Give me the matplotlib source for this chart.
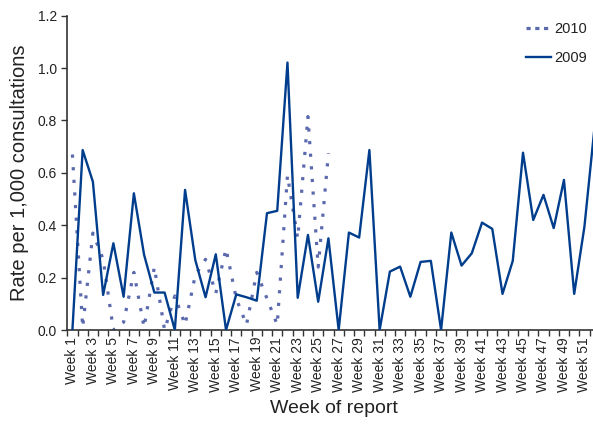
import numpy as np
import matplotlib
matplotlib.use("Agg")
import matplotlib.pyplot as plt

plt.rcParams['font.family'] = ['Liberation Sans', 'DejaVu Sans']
plt.rcParams['lines.scale_dashes'] = False

# weekly rates per 1,000 consultations
weeks = np.arange(1, 53)
rate_2009 = [0.0, 0.687, 0.566, 0.134, 0.331, 0.127, 0.522, 0.287, 0.143, 0.143,
             0.0, 0.535, 0.267, 0.125, 0.289, 0.0, 0.136, 0.125, 0.112, 0.446,
             0.455, 1.021, 0.123, 0.363, 0.108, 0.350, 0.0, 0.372, 0.353, 0.687,
             0.0, 0.223, 0.242, 0.127, 0.260, 0.264, 0.0, 0.372, 0.246, 0.293,
             0.410, 0.386, 0.138, 0.264, 0.677, 0.420, 0.516, 0.389, 0.573, 0.138,
             0.395, 0.78]
rate_2010 = [0.67, 0.01, 0.37, 0.27, 0.0, 0.03, 0.22, 0.01, 0.24, 0.0,
             0.13, 0.02, 0.21, 0.27, 0.14, 0.31, 0.12, 0.02, 0.22, 0.12,
             0.02, 0.59, 0.35, 0.815, 0.24, 0.675]
label_weeks = weeks[::2]
tick_labels = ['Week %d' % w for w in label_weeks]

fig = plt.figure(figsize=(5.93, 4.25), dpi=100)
ax = fig.add_axes([67.3 / 593, 95 / 425, 532.5 / 593, 314.3 / 425])

ax.plot(weeks[:len(rate_2010)], rate_2010, color='#5b69ad', lw=2.3,
        linestyle=(0, (2.3, 6.8)), label='2010', zorder=2)
ax.plot(weeks, rate_2009, color='#003d8c', lw=1.7, label='2009', zorder=3)

ax.set_xlim(0.5, 52.5)
ax.set_ylim(0, 1.2)
ax.set_yticks(np.arange(0, 1.21, 0.2))
ax.set_yticklabels(['%.1f' % v for v in np.arange(0, 1.21, 0.2)])
ax.set_xticks(label_weeks)
ax.set_xticklabels(tick_labels, rotation=90)
ax.set_xticks(np.arange(0.5, 53, 1), minor=True)
ax.tick_params(axis='x', which='major', length=0, pad=5, labelsize=10, colors='#222222')
ax.tick_params(axis='x', which='minor', length=4, width=1, direction='out', color='#333333')
ax.tick_params(axis='y', length=4, width=1, labelsize=10, color='#333333', labelcolor='#222222')

for s in ['top', 'right']:
    ax.spines[s].set_visible(False)
for s in ['left', 'bottom']:
    ax.spines[s].set_color('#333333')
    ax.spines[s].set_linewidth(1.2)

ax.set_ylabel('Rate per 1,000 consultations', fontsize=14.5, color='#222222', labelpad=6)
ax.set_xlabel('Week of report', fontsize=14, color='#222222', labelpad=6)

leg = fig.legend(*ax.get_legend_handles_labels(), loc='upper right',
                 bbox_to_anchor=(587 / 593, 1 - 22 / 425), frameon=False,
                 fontsize=10.5, handlelength=1.75, handletextpad=0.2, labelspacing=1.05,
                 borderpad=0, borderaxespad=0)
for t in leg.get_texts():
    t.set_color('#222222')
leg.get_lines()[0].set_linestyle((0, (3, 3.3)))

fig.savefig('out.png', dpi=100)
